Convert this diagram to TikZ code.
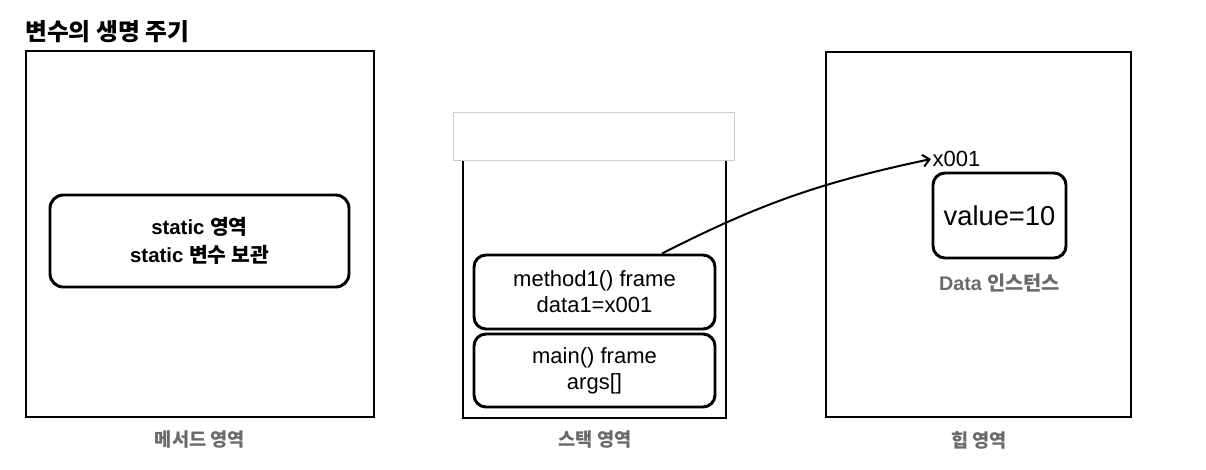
\documentclass[tikz,border=0pt]{standalone}
\usepackage{fontspec}
\setmainfont{Liberation Sans}
\newfontfamily\kr{Noto Sans CJK KR}
\usetikzlibrary{arrows.meta}
\definecolor{areagray}{HTML}{6A6A6A}
\definecolor{capgray}{HTML}{CCCCCC}
\newcommand{\ko}[1]{{\kr #1}}

\begin{document}
\begin{tikzpicture}[x=0.75pt,y=-0.75pt,
  area/.style={draw,line width=2.2pt,inner sep=0pt},
  frame/.style={draw,line width=2.2pt,rounded corners=9pt,align=center,inner sep=0pt,
    font=\fontsize{16.5}{19.5}\selectfont},
  arealabel/.style={text=areagray,font=\bfseries\fontsize{14}{16}\selectfont}]
  \useasboundingbox (0,0) rectangle (1206,469);
  \node[anchor=west,inner sep=0pt,font=\bfseries\fontsize{17.8}{20}\selectfont] (title) at (25,32) {\ko{변수의 생명 주기}};

  % method area
  \node[area,minimum width=261pt,minimum height=274.5pt] (method) at (200,234) {};
  \node[frame,rounded corners=10pt,font=\bfseries\fontsize{15.3}{21}\selectfont,
    minimum width=224.25pt,minimum height=69pt] (static) at (199.5,241) {static \ko{영역}\\static \ko{변수 보관}};
  \node[arealabel] (methodlabel) at (200,440) {\ko{메서드 영역}};

  % stack
  \node[area,minimum width=197.25pt,minimum height=216pt] (stack) at (594.5,274) {};
  \node[draw=capgray,fill=white,line width=0.6pt,inner sep=0pt,
    minimum width=210.75pt,minimum height=36pt] (stacktop) at (593.5,136) {};
  \node[frame,minimum width=180.75pt,minimum height=55.5pt] (method1) at (594.5,292) {method1() frame\\data1=x001};
  \node[frame,minimum width=180.75pt,minimum height=54.75pt] (mainframe) at (594.5,370.5) {main() frame\\args[]};
  \node[arealabel] (stacklabel) at (595,440) {\ko{스택 영역}};

  % heap
  \node[area,minimum width=228.75pt,minimum height=273.75pt] (heap) at (978.5,234.5) {};
  \node[frame,font=\fontsize{20.5}{24}\selectfont,minimum width=99.75pt,minimum height=63.75pt] (value) at (999.5,215.5) {value=10};
  \node[anchor=west,inner sep=1pt,font=\fontsize{16.5}{19.5}\selectfont] (addr) at (931,159) {x001};
  \node[arealabel,font=\bfseries\fontsize{14.8}{16}\selectfont] (datalabel) at (999.5,283) {Data \ko{인스턴스}};
  \node[arealabel] (heaplabel) at (979,440) {\ko{힙 영역}};

  \draw[line width=1.5pt,-{Straight Barb[length=5pt,width=9pt]}]
    ([xshift=50.6pt]method1.north) to[out=27,in=192] (addr.west);
\end{tikzpicture}
\end{document}
